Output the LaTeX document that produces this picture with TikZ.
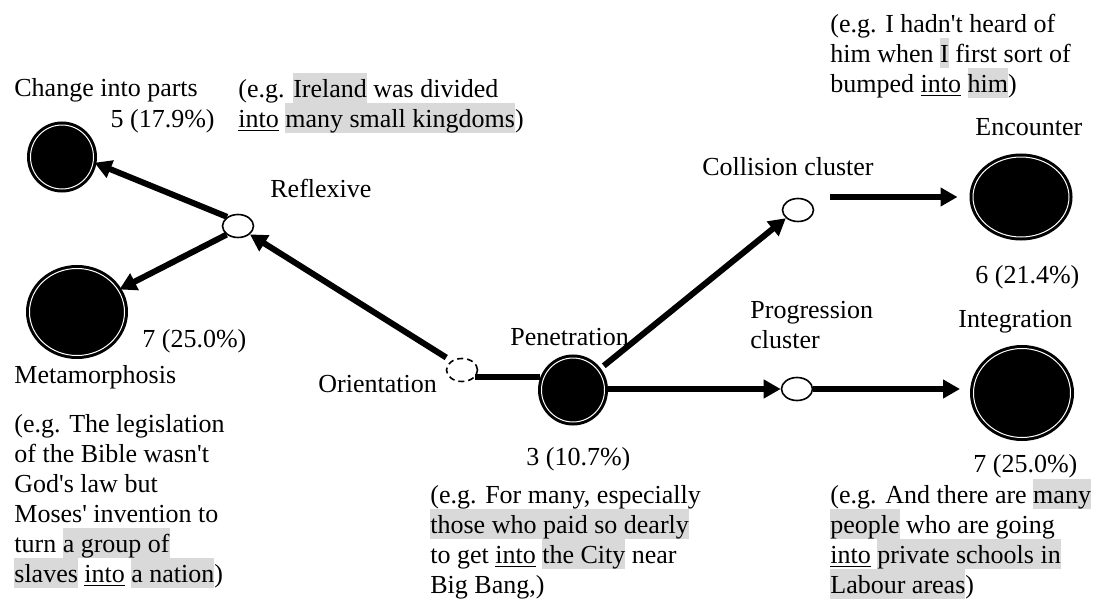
\documentclass[tikz,border=0pt]{standalone}
\usepackage{fontspec}
\setmainfont{Liberation Serif}
\usetikzlibrary{shapes.geometric,arrows.meta}
\definecolor{hlgray}{gray}{0.85}
\newcommand{\hl}[1]{{\setlength{\fboxsep}{0pt}\colorbox{hlgray}{\vrule height 11.8pt depth 3.2pt width 0pt#1}}}
\newcommand{\ap}{\textquotesingle}
\tikzset{
  lbl/.style={inner sep=0pt, anchor=base west, font=\fontsize{13}{15}\selectfont},
  ex/.style={lbl, align=left},
  bigdot/.style={ellipse, draw=black, fill=black, line width=1.5pt, double=white, double distance=0.5pt, inner sep=0pt},
  clus/.style={ellipse, draw=black, fill=white, line width=0.8pt, minimum width=15.5pt, minimum height=11.5pt, inner sep=0pt},
  conn/.style={line width=3pt},
  arr/.style={conn, -{Triangle[length=8.5pt,width=9pt]}}
}
\begin{document}
\begin{tikzpicture}[x=0.5pt,y=-0.5pt]
\useasboundingbox (0,0) rectangle (1104,605);
% categories
\node[bigdot, minimum width=31.5pt, minimum height=32pt] (chg) at (62,157) {};
\node[bigdot, minimum width=47.5pt, minimum height=43.5pt] (meta) at (77,312) {};
\node[bigdot, minimum width=31.5pt, minimum height=32pt] (pen) at (573,390) {};
\node[bigdot, minimum width=48pt, minimum height=40pt] (enc) at (1021,197) {};
\node[bigdot, minimum width=48.5pt, minimum height=44.5pt] (integ) at (1022,393) {};
% clusters
\node[clus] (refl) at (238,226) {};
\node[clus, dash pattern=on 3pt off 2pt] (ori) at (462,370) {};
\node[clus] (coll) at (798,210) {};
\node[clus] (prog) at (797,389) {};
% labels (multi-line ones sit on their last line)
\node[lbl] (chgl) at (14,97) {Change into parts};
\node[lbl, anchor=base east] (chgn) at (215,127) {5 (17.9\%)};
\node[lbl] (metan) at (142,347) {7 (25.0\%)};
\node[lbl] (metal) at (14,383) {Metamorphosis};
\node[lbl] (refll) at (270,197) {Reflexive};
\node[lbl] (oril) at (318,392) {Orientation};
\node[lbl] (penl) at (510,345) {Penetration};
\node[lbl] (penn) at (526,465) {3 (10.7\%)};
\node[lbl] (colll) at (702,175) {Collision cluster};
\node[lbl] (encl) at (975,135) {Encounter};
\node[lbl] (encn) at (975,283) {6 (21.4\%)};
\node[ex] (progl) at (750,348) {Progression\\cluster};
\node[lbl] (integl) at (958,327) {Integration};
\node[lbl] (integn) at (973,472) {7 (25.0\%)};
% examples
\node[ex] (exchg) at (238,127) {(e.g. \hl{Ireland} was divided\\\underline{into} \hl{many small kingdoms})};
\node[ex] (exmeta) at (14,582) {(e.g. The legislation\\of the Bible wasn\ap t\\God\ap s law but\\Moses\ap{} invention to\\turn \hl{a group of}\\\hl{slaves} \underline{into} \hl{a nation})};
\node[ex] (expen) at (430,593) {(e.g. For many, especially\\\hl{those who paid so dearly}\\to get \underline{into} \hl{the City} near\\Big Bang,)};
\node[ex] (exenc) at (830,92) {(e.g. I hadn\ap t heard of\\him when \hl{I} first sort of\\bumped \underline{into} \hl{him})};
\node[ex] (exinteg) at (830,593) {(e.g. And there are \hl{many}\\\hl{people} who are going\\\underline{into} \hl{private schools in}\\\hl{Labour areas})};
% connectors
\draw[arr] (refl.140) -- (chg.-10);
\draw[arr] (refl.217) -- (meta.28);
\draw[arr, shorten <=3pt] (ori.139) -- (refl.-35);
\draw[conn] (ori.-30) -- (ori.-30 -| pen.west);
\draw[arr, shorten <=3pt] (pen.38) -- (coll.214);
\draw[arr] (pen.east |- prog.west) -- (prog.west);
\draw[arr] (prog.east) -- ([xshift=-6pt]prog.east -| integ.west);
\draw[arr] ([xshift=8pt]coll.east |- enc.west) -- ([xshift=-7pt]enc.west);
\end{tikzpicture}
\end{document}
